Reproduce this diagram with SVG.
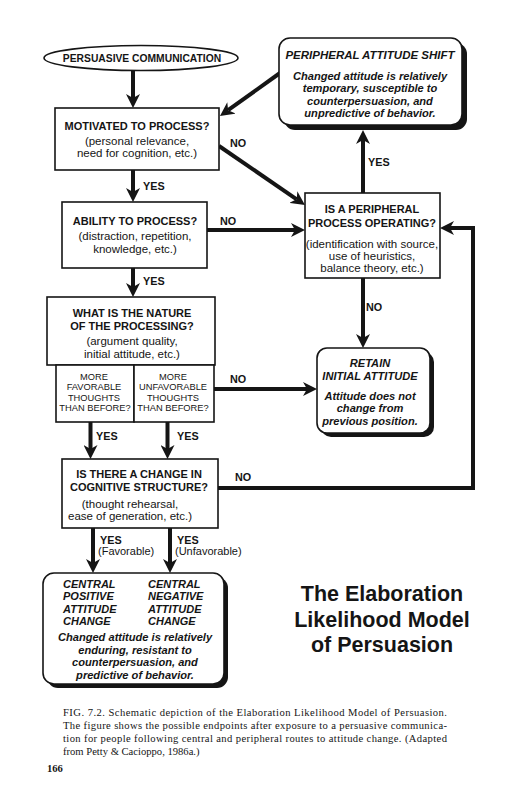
<svg xmlns="http://www.w3.org/2000/svg" width="516" height="800" viewBox="0 0 516 800">
<style>
.bg{fill:#fff}
.box{fill:#fff;stroke:#151515;stroke-width:1.6}
.sh{fill:#151515}
.h{font-family:"Liberation Sans",Arial,sans-serif;font-weight:bold;font-size:11px;fill:#151515;text-anchor:middle}
.p{font-family:"Liberation Sans",Arial,sans-serif;font-size:11.5px;fill:#151515;text-anchor:middle}
.s{font-family:"Liberation Sans",Arial,sans-serif;font-size:9.3px;fill:#151515;text-anchor:middle}
.bi{font-family:"Liberation Sans",Arial,sans-serif;font-weight:bold;font-style:italic;font-size:11.1px;fill:#151515;text-anchor:middle}
.bil{font-family:"Liberation Sans",Arial,sans-serif;font-weight:bold;font-style:italic;font-size:11px;fill:#151515}
.lbl{font-family:"Liberation Sans",Arial,sans-serif;font-weight:bold;font-size:10.8px;fill:#151515}
.lp{font-family:"Liberation Sans",Arial,sans-serif;font-size:11px;fill:#151515}
.title{font-family:"Liberation Sans",Arial,sans-serif;font-weight:bold;font-size:21.5px;fill:#151515;text-anchor:middle}
.cap{font-family:"Liberation Serif","Times New Roman",serif;font-size:10.6px;fill:#151515}
.con{fill:none;stroke:#151515;stroke-width:4}
</style>
<defs>
<marker id="ah" markerUnits="userSpaceOnUse" viewBox="0 0 14 14" refX="4" refY="7" markerWidth="14" markerHeight="14" orient="auto">
<path d="M0,0 L14,7 L0,14 L4,7 Z" fill="#151515"/>
</marker>
</defs>
<rect class="bg" x="0" y="0" width="516" height="800"/>

<g id="connectors">
<line class="con" x1="133" y1="70" x2="133" y2="98" marker-end="url(#ah)"/>
<line class="con" x1="280" y1="73" x2="228.1" y2="110.2" marker-end="url(#ah)"/>
<line class="con" x1="219" y1="146" x2="296.7" y2="199.3" marker-end="url(#ah)"/>
<line class="con" x1="133" y1="170" x2="133" y2="192" marker-end="url(#ah)"/>
<line class="con" x1="207" y1="230" x2="295" y2="230" marker-end="url(#ah)"/>
<line class="con" x1="363" y1="193" x2="363" y2="140" marker-end="url(#ah)"/>
<line class="con" x1="363" y1="278" x2="363" y2="338" marker-end="url(#ah)"/>
<line class="con" x1="133" y1="268" x2="133" y2="287" marker-end="url(#ah)"/>
<line class="con" x1="214" y1="389" x2="307" y2="389" marker-end="url(#ah)"/>
<line class="con" x1="90.5" y1="422" x2="90.5" y2="449" marker-end="url(#ah)"/>
<line class="con" x1="167.5" y1="422" x2="167.5" y2="449" marker-end="url(#ah)"/>
<polyline class="con" points="218,488 473,488 473,228 450,228" marker-end="url(#ah)"/>
<line class="con" x1="93" y1="528" x2="93" y2="563" marker-end="url(#ah)"/>
<line class="con" x1="170" y1="528" x2="170" y2="563" marker-end="url(#ah)"/>
<text class="lbl" x="230" y="147">NO</text>
<text class="lbl" x="143" y="190">YES</text>
<text class="lbl" x="220" y="225">NO</text>
<text class="lbl" x="143" y="285">YES</text>
<text class="lbl" x="368" y="166">YES</text>
<text class="lbl" x="366" y="311">NO</text>
<text class="lbl" x="230" y="383">NO</text>
<text class="lbl" x="96" y="440">YES</text>
<text class="lbl" x="177" y="440">YES</text>
<text class="lbl" x="235" y="481">NO</text>
<text class="lbl" x="100" y="544">YES</text>
<text class="lp" x="98" y="555">(Favorable)</text>
<text class="lbl" x="177" y="544">YES</text>
<text class="lp" x="175" y="555">(Unfavorable)</text>
</g>

<g id="persuasive-communication">
<ellipse class="box" cx="141" cy="58" rx="97" ry="12.5"/>
<text class="h" x="142" y="62" style="font-size:10.3px">PERSUASIVE COMMUNICATION</text>
</g>

<g id="peripheral-attitude-shift">
<rect class="sh" x="284" y="43" width="183" height="87" rx="11"/>
<rect class="box" x="279" y="38" width="183" height="87" rx="11"/>
<text class="bi" x="370" y="59" style="font-size:11.5px">PERIPHERAL ATTITUDE SHIFT</text>
<text class="bi" x="370" y="80">Changed attitude is relatively</text>
<text class="bi" x="370" y="92">temporary, susceptible to</text>
<text class="bi" x="370" y="105">counterpersuasion, and</text>
<text class="bi" x="370" y="117">unpredictive of behavior.</text>
</g>

<g id="motivated">
<rect class="box" x="55" y="108" width="164" height="62"/>
<text class="h" x="137" y="130">MOTIVATED TO PROCESS?</text>
<text class="p" x="137" y="145">(personal relevance,</text>
<text class="p" x="137" y="157">need for cognition, etc.)</text>
</g>

<g id="ability">
<rect class="box" x="62" y="202" width="145" height="66"/>
<text class="h" x="135" y="225">ABILITY TO PROCESS?</text>
<text class="p" x="135" y="240">(distraction, repetition,</text>
<text class="p" x="135" y="253">knowledge, etc.)</text>
</g>

<g id="peripheral-process">
<rect class="box" x="305" y="193" width="135" height="85"/>
<text class="h" x="372" y="213">IS A PERIPHERAL</text>
<text class="h" x="372" y="227">PROCESS OPERATING?</text>
<text class="p" x="372" y="248">(identification with source,</text>
<text class="p" x="372" y="260">use of heuristics,</text>
<text class="p" x="372" y="272">balance theory, etc.)</text>
</g>

<g id="nature">
<rect class="box" x="47" y="297" width="168" height="68"/>
<text class="h" x="132" y="317">WHAT IS THE NATURE</text>
<text class="h" x="132" y="330">OF THE PROCESSING?</text>
<text class="p" x="132" y="345">(argument quality,</text>
<text class="p" x="132" y="358">initial attitude, etc.)</text>
<rect class="box" x="56" y="365" width="78" height="57"/>
<rect class="box" x="134" y="365" width="80" height="57"/>
<text class="s" x="94" y="380">MORE</text>
<text class="s" x="94" y="390">FAVORABLE</text>
<text class="s" x="94" y="400.5">THOUGHTS</text>
<text class="s" x="95" y="411">THAN BEFORE?</text>
<text class="s" x="173" y="380">MORE</text>
<text class="s" x="173" y="390">UNFAVORABLE</text>
<text class="s" x="173" y="400.5">THOUGHTS</text>
<text class="s" x="173" y="411">THAN BEFORE?</text>
</g>

<g id="retain">
<rect class="sh" x="321" y="352" width="113" height="85" rx="10"/>
<rect class="box" x="317" y="348" width="113" height="85" rx="10"/>
<text class="bi" x="370" y="367">RETAIN</text>
<text class="bi" x="370" y="380">INITIAL ATTITUDE</text>
<text class="bi" x="370" y="400">Attitude does not</text>
<text class="bi" x="370" y="412">change from</text>
<text class="bi" x="370" y="425">previous position.</text>
</g>

<g id="cognitive">
<rect class="box" x="62" y="459" width="156" height="69"/>
<text class="h" x="139" y="478">IS THERE A CHANGE IN</text>
<text class="h" x="139" y="491">COGNITIVE STRUCTURE?</text>
<text class="p" x="130" y="508">(thought rehearsal,</text>
<text class="p" x="130" y="520">ease of generation, etc.)</text>
</g>

<g id="central">
<rect class="sh" x="47" y="577" width="181" height="111" rx="11"/>
<rect class="box" x="43" y="573" width="181" height="111" rx="11"/>
<text class="bil" x="63" y="588">CENTRAL</text>
<text class="bil" x="63" y="600">POSITIVE</text>
<text class="bil" x="63" y="612.5">ATTITUDE</text>
<text class="bil" x="63" y="625">CHANGE</text>
<text class="bil" x="148" y="588">CENTRAL</text>
<text class="bil" x="148" y="600">NEGATIVE</text>
<text class="bil" x="148" y="612.5">ATTITUDE</text>
<text class="bil" x="148" y="625">CHANGE</text>
<text class="bi" x="135" y="641">Changed attitude is relatively</text>
<text class="bi" x="135" y="653.5">enduring, resistant to</text>
<text class="bi" x="135" y="666">counterpersuasion, and</text>
<text class="bi" x="135" y="678.5">predictive of behavior.</text>
</g>

<g id="title">
<text class="title" x="382" y="601">The Elaboration</text>
<text class="title" x="382" y="627">Likelihood Model</text>
<text class="title" x="382" y="652">of Persuasion</text>
</g>

<g id="caption">
<text class="cap" x="63" y="716" textLength="384" lengthAdjust="spacing">FIG. 7.2.   Schematic depiction of the Elaboration Likelihood Model of Persuasion.</text>
<text class="cap" x="63" y="729" textLength="384" lengthAdjust="spacing">The figure shows the possible endpoints after exposure to a persuasive communica-</text>
<text class="cap" x="63" y="742" textLength="384" lengthAdjust="spacing">tion for people following central and peripheral routes to attitude change. (Adapted</text>
<text class="cap" x="63" y="755">from Petty &amp; Cacioppo, 1986a.)</text>
<text class="cap" x="47" y="772" style="font-weight:bold">166</text>
</g>
</svg>
